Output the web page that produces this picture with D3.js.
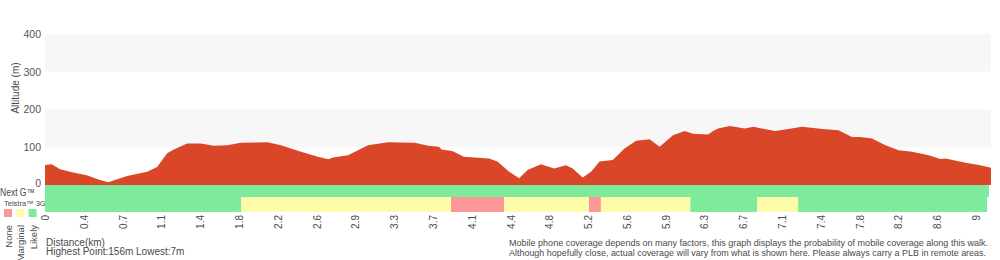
<!DOCTYPE html>
<html>
<head>
<meta charset="utf-8">
<script src="https://cdn.jsdelivr.net/npm/d3@7"></script>
<style>
body { margin: 0; background: #fff; }
svg { display: block; font-family: "Liberation Sans", Arial, sans-serif; }
.lbl { fill: #4a4a4a; }
</style>
</head>
<body>
<svg id="chart" width="1000" height="260"></svg>
<script>
// distance (km) and altitude (m) read from the profile
const distKm = [0, 0.065, 0.146, 0.272, 0.403, 0.532, 0.613, 0.697, 0.794, 0.987, 1.084, 1.181,
  1.245, 1.375, 1.504, 1.633, 1.763, 1.892, 2.151, 2.281, 2.475, 2.637, 2.740, 2.783, 2.929,
  3.123, 3.317, 3.575, 3.705, 3.808, 3.834, 3.937, 4.050, 4.293, 4.374, 4.487, 4.584, 4.665,
  4.794, 4.923, 5.037, 5.101, 5.198, 5.279, 5.360, 5.489, 5.602, 5.715, 5.845, 5.942, 6.071,
  6.184, 6.265, 6.410, 6.459, 6.507, 6.620, 6.766, 6.847, 7.057, 7.218, 7.315, 7.542, 7.671,
  7.801, 7.882, 7.995, 8.124, 8.253, 8.382, 8.544, 8.657, 8.706, 8.900, 9.029, 9.158, 9.223, 9.330];
const altM = [53, 55, 42, 33, 26, 13, 7, 15, 24, 35, 48, 84,
  94, 110, 110, 104, 105, 112, 113, 105, 88, 75, 68, 73, 79,
  105, 113, 112, 104, 101, 94, 90, 75, 70, 62, 35, 18, 40,
  55, 44, 52, 44, 20, 35, 62, 66, 97, 117, 121, 101, 132,
  143, 136, 134, 143, 150, 156, 150, 154, 143, 150, 154, 148, 145,
  127, 127, 123, 105, 92, 88, 79, 69, 70, 59, 53, 46, 50, 53];

const tickLabels = ["0", "0.4", "0.7", "1.1", "1.4", "1.8", "2.2", "2.6", "2.9", "3.3", "3.7", "4.1",
  "4.4", "4.8", "5.2", "5.6", "5.9", "6.3", "6.7", "7.1", "7.4", "7.8", "8.2", "8.6", "9"];
const yTicks = [0, 100, 200, 300, 400];

// coverage segments [start km, end km, level]
const nextGSegs = [[0, 9.125, "Likely"]];
const telstra3GSegs = [
  [0, 1.897, "Likely"], [1.897, 3.925, "Marginal"], [3.925, 4.437, "None"],
  [4.437, 5.258, "Marginal"], [5.258, 5.374, "None"], [5.374, 6.239, "Marginal"],
  [6.239, 6.885, "Likely"], [6.885, 7.281, "Marginal"], [7.281, 9.107, "Likely"]];
const levels = ["None", "Marginal", "Likely"];
const levelColors = ["#fe9797", "#fdfda9", "#7deb9b"];

const notes = [
  "Mobile phone coverage depends on many factors, this graph displays the probability of mobile coverage along this walk.",
  "Although hopefully close, actual coverage will vary from what is shown here. Please always carry a PLB in remote areas."];

const svg = d3.select("#chart");
const plotL = 45, plotR = 991, plotT = 34, plotB = 185;

// distance ticks sit on equal steps, last tick labelled 9
const tickStep = 0.375;
const xMax = (plotR - plotL) / ((977 - 46) / 24) * tickStep;
const x = d3.scaleLinear().domain([0, xMax]).range([plotL, plotR]);
const y = d3.scaleLinear().domain([0, 400]).range([plotB, plotT]);
const color = d3.scaleOrdinal().domain(levels).range(levelColors);

// alternating background bands
const bands = [[100, 200], [300, 400]];
svg.append("g").selectAll("rect").data(bands).join("rect")
  .attr("x", plotL).attr("width", plotR - plotL)
  .attr("y", d => y(d[1])).attr("height", d => y(d[0]) - y(d[1]))
  .attr("fill", "#f7f7f7");

const pts = altM.map((a, i) => [distKm[i], a]).sort((a, b) => a[0] - b[0]);
svg.append("path")
  .datum(pts)
  .attr("fill", "#d94728")
  .attr("d", d3.area()
    .x(d => Math.min(x(d[0]), plotR))
    .y0(plotB)
    .y1(d => y(d[1])));

// y axis labels
const yAxis = svg.append("g").attr("transform", `translate(${plotL},0)`)
  .call(d3.axisLeft(y).tickValues(yTicks).tickSize(0).tickPadding(4));
yAxis.select(".domain").remove();
yAxis.selectAll("text").attr("fill", "#555").attr("font-size", 10.5)
  .attr("font-family", "Liberation Sans, Arial, sans-serif");
yAxis.selectAll("g.tick").filter(d => d === 0).select("text").attr("dy", "0.1em");

svg.append("text").attr("class", "lbl")
  .attr("transform", "translate(19,88) rotate(-90)")
  .attr("text-anchor", "middle").attr("font-size", 10)
  .text("Altitude (m)");

// coverage rows
const rows = [
  { segs: nextGSegs, y0: 185, h: 12 },
  { segs: telstra3GSegs, y0: 197, h: 15 }];
rows.forEach(r => {
  svg.append("g").selectAll("rect").data(r.segs).join("rect")
    .attr("x", d => x(d[0])).attr("width", d => x(d[1]) - x(d[0]))
    .attr("y", r.y0).attr("height", r.h)
    .attr("fill", d => color(d[2]));
});

svg.append("text").attr("class", "lbl").attr("x", 0).attr("y", 196)
  .attr("font-size", 10.5).attr("textLength", 35).attr("lengthAdjust", "spacingAndGlyphs")
  .text("Next G™");
svg.append("text").attr("class", "lbl").attr("x", 4).attr("y", 206)
  .attr("font-size", 7.5).text("Telstra™ 3G");

// legend
const leg = svg.append("g").selectAll("g").data(levels).join("g")
  .attr("transform", (d, i) => `translate(${4 + i * 12.3},209)`);
leg.append("rect").attr("width", 8).attr("height", 8).attr("fill", d => color(d));
leg.append("text").attr("class", "lbl")
  .attr("transform", "translate(8,16) rotate(-90)")
  .attr("text-anchor", "end").attr("font-size", 9.5)
  .text(d => d);

// distance axis
const xAxis = svg.append("g").attr("transform", "translate(0,212)")
  .call(d3.axisBottom(x)
    .tickValues(tickLabels.map((t, i) => i * tickStep))
    .tickFormat((d, i) => tickLabels[i])
    .tickSize(0));
xAxis.select(".domain").remove();
xAxis.selectAll("text")
  .attr("fill", "#4a4a4a").attr("font-size", 10)
  .attr("font-family", "Liberation Sans, Arial, sans-serif")
  .attr("text-anchor", "end")
  .attr("transform", "translate(0,3) rotate(-90)")
  .attr("x", 0).attr("y", 0).attr("dy", "0.35em");

// notes
svg.append("text").attr("class", "lbl").attr("x", 46).attr("y", 246)
  .attr("font-size", 10).text("Distance(km)");
svg.append("text").attr("class", "lbl").attr("x", 46).attr("y", 255)
  .attr("font-size", 10).text(`Highest Point:${d3.max(altM)}m Lowest:${d3.min(altM)}m`);
svg.append("g").selectAll("text").data(notes).join("text")
  .attr("class", "lbl")
  .attr("x", 509).attr("y", (d, i) => 246 + i * 9.5)
  .attr("font-size", 9.5)
  .attr("textLength", (d, i) => i ? 477 : 479)
  .attr("lengthAdjust", "spacingAndGlyphs")
  .text(d => d);
</script>
</body>
</html>
